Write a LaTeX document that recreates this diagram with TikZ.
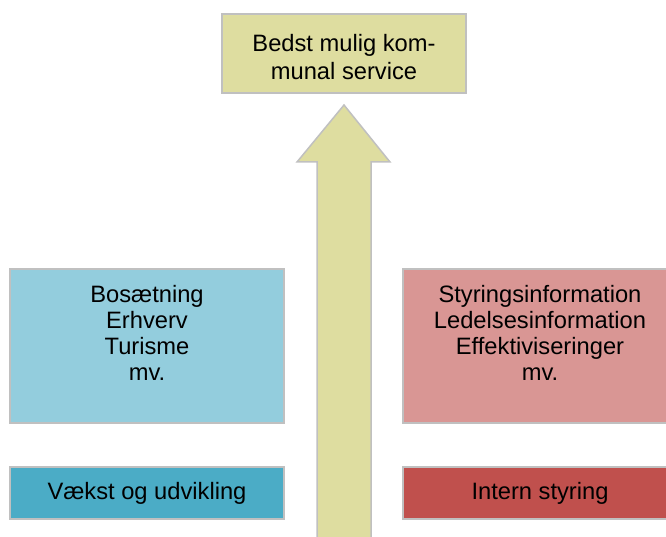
\documentclass[tikz,border=0pt]{standalone}
\usepackage{fontspec}
\setmainfont{Liberation Sans}
\definecolor{edgegray}{RGB}{192,192,192}
\definecolor{goalfill}{RGB}{222,221,160}
\definecolor{growthlight}{RGB}{147,205,221}
\definecolor{growthdark}{RGB}{75,172,198}
\definecolor{controllight}{RGB}{217,150,148}
\definecolor{controldark}{RGB}{192,80,77}
\tikzset{
  panel/.style={draw=edgegray, line width=1.5pt, inner sep=0pt, rectangle},
  wide/.style={panel, minimum width=274pt},
  txt/.style={align=center, inner sep=0pt, font=\fontsize{23.7}{26}\selectfont},
  goaltxt/.style={align=center, inner sep=0pt, font=\fontsize{23.7}{28}\selectfont},
}
\begin{document}
\begin{tikzpicture}[x=1pt, y=-1pt]
  \useasboundingbox (0,0) rectangle (666,537);
  \clip (0,0) rectangle (666,537);

  % upward arrow in the middle
  \draw[draw=edgegray, line width=1.5pt, fill=goalfill]
    (317,545) -- (317,162) -- (297,162) -- (344,105) -- (390,162)
    -- (371,162) -- (371,545) -- cycle;

  % goal at the top
  \node[panel, fill=goalfill, minimum width=244pt, minimum height=79pt]
    (goal) at (344,53.5) {};
  \node[goaltxt] (goaltext) at (344,57.5) {Bedst mulig kom-\\munal service};

  % left column: growth and development
  \node[wide, fill=growthlight, minimum height=154pt] (growth) at (147,346) {};
  \node[txt] (growthtext) at (147,333) {Bosætning\\Erhverv\\Turisme\\mv.};
  \node[wide, fill=growthdark, minimum height=52pt, font=\fontsize{23.7}{26}\selectfont]
    (growthlabel) at (147,493) {Vækst og udvikling};

  % right column: internal control
  \node[wide, fill=controllight, minimum height=154pt] (control) at (540,346) {};
  \node[txt] (controltext) at (540,333)
    {Styringsinformation\\Ledelsesinformation\\Effektiviseringer\\mv.};
  \node[wide, fill=controldark, minimum height=52pt, font=\fontsize{23.7}{26}\selectfont]
    (controllabel) at (540,493) {Intern styring};
\end{tikzpicture}
\end{document}
